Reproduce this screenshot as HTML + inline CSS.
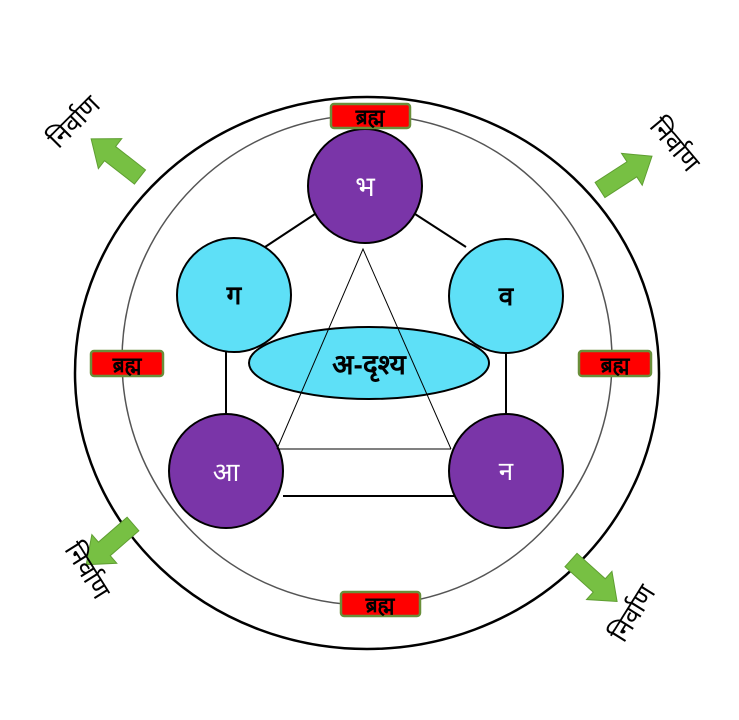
<!DOCTYPE html>
<html><head><meta charset="utf-8"><style>
html,body{margin:0;padding:0;background:#fff;width:739px;height:720px;overflow:hidden}
text{font-family:"Liberation Sans","Noto Sans CJK SC",sans-serif}
</style></head><body>
<svg width="739" height="720" viewBox="0 0 739 720" xmlns="http://www.w3.org/2000/svg">
<ellipse cx="367" cy="373" rx="292" ry="276" fill="none" stroke="#000" stroke-width="2.5"/>
<ellipse cx="367" cy="360" rx="245" ry="245" fill="none" stroke="#555" stroke-width="1.5"/>
<g stroke="#000" stroke-width="2">
<line x1="315" y1="214" x2="265" y2="247"/>
<line x1="415" y1="214" x2="466" y2="247"/>
<line x1="226" y1="350" x2="226" y2="416"/>
<line x1="506" y1="350" x2="506" y2="416"/>
<line x1="283" y1="496" x2="460" y2="496"/>
</g>
<circle cx="234" cy="295" r="57" fill="#5ee0f7" stroke="#000" stroke-width="2"/>
<circle cx="506" cy="296" r="57" fill="#5ee0f7" stroke="#000" stroke-width="2"/>
<circle cx="365" cy="186" r="57" fill="#7a35a8" stroke="#000" stroke-width="2"/>
<ellipse cx="369" cy="363" rx="120" ry="36" fill="#5ee0f7" stroke="#000" stroke-width="2"/>
<circle cx="226" cy="471" r="57" fill="#7a35a8" stroke="#000" stroke-width="2"/>
<circle cx="506" cy="471" r="57" fill="#7a35a8" stroke="#000" stroke-width="2"/>
<g stroke="#000" stroke-width="1" fill="none">
<polyline points="277,449 363,249 451,449"/>
<line x1="277" y1="449" x2="451" y2="449"/>
</g>
<text x="365" y="196" font-size="28" fill="#fff" text-anchor="middle">भ</text>
<text x="234" y="304" font-size="26" font-weight="bold" fill="#000" text-anchor="middle">ग</text>
<text x="506" y="305" font-size="26" font-weight="bold" fill="#000" text-anchor="middle">व</text>
<text x="369" y="374" font-size="28" font-weight="bold" fill="#000" text-anchor="middle">अ-दृश्य</text>
<text x="226" y="481" font-size="26" fill="#fff" text-anchor="middle">आ</text>
<text x="506" y="480" font-size="26" fill="#fff" text-anchor="middle">न</text>
<g fill="#f00" stroke="#6a8f3a" stroke-width="2.5">
<rect x="331" y="104" width="79" height="24" rx="3"/>
<rect x="91" y="351" width="72" height="25" rx="3"/>
<rect x="579" y="351" width="72" height="25" rx="3"/>
<rect x="341" y="592" width="79" height="24" rx="3"/>
</g>
<g font-size="21" font-weight="bold" fill="#000" text-anchor="middle">
<text x="370" y="124">ब्रह्म</text>
<text x="127" y="372">ब्रह्म</text>
<text x="615" y="372">ब्रह्म</text>
<text x="380" y="612">ब्रह्म</text>
</g>
<g fill="#77c043" stroke="#5f9e32" stroke-width="1">
<g transform="translate(140,177) rotate(-142)"><polygon points="0,-9 38,-9 38,-19 62,0 38,19 38,9 0,9"/></g>
<g transform="translate(600,190) rotate(-33)"><polygon points="0,-9 38,-9 38,-19 62,0 38,19 38,9 0,9"/></g>
<g transform="translate(133,524) rotate(139)"><polygon points="0,-9 38,-9 38,-19 62,0 38,19 38,9 0,9"/></g>
<g transform="translate(571,560) rotate(42)"><polygon points="0,-9 38,-9 38,-19 62,0 38,19 38,9 0,9"/></g>
</g>
<g font-size="26" fill="#000" text-anchor="middle">
<text transform="translate(80,128) rotate(-45)">निर्वाण</text>
<text transform="translate(668,150) rotate(50)">निर्वाण</text>
<text transform="translate(80,575) rotate(58)">निर्वाण</text>
<text transform="translate(640,618) rotate(-58)">निर्वाण</text>
</g>
</svg>
</body></html>
